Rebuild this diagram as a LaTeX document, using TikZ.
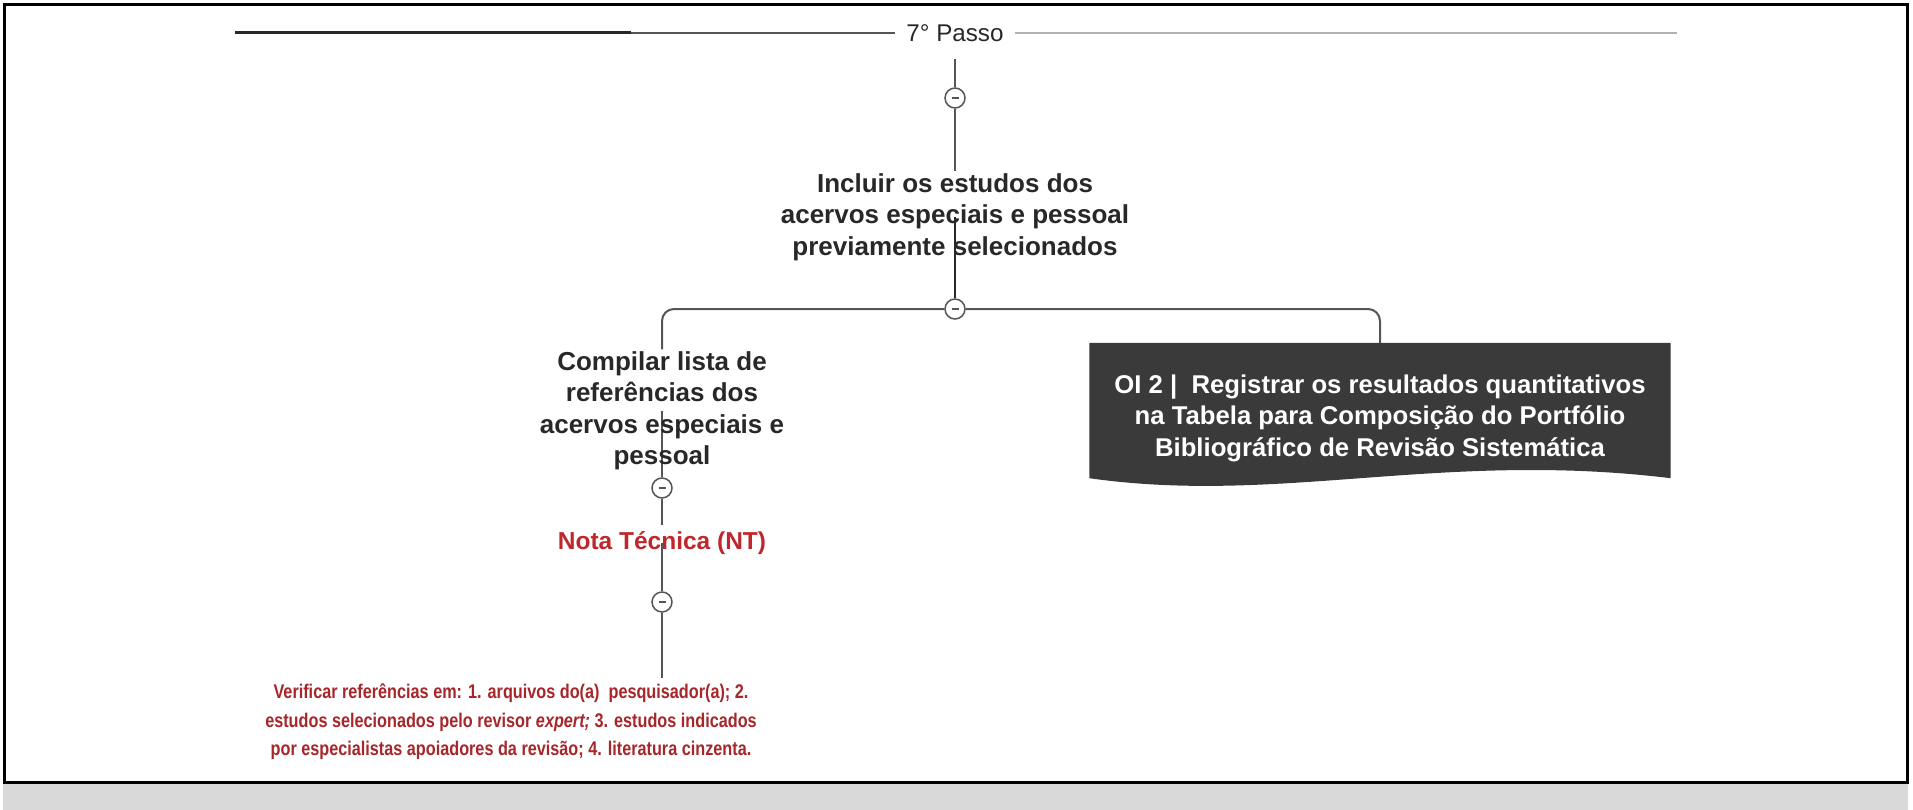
\documentclass[tikz,border=0pt]{standalone}
\usepackage{fontspec}
\setmainfont{Liberation Sans}
\newfontfamily\narrowfont[FakeStretch=0.82]{Liberation Sans}
\usetikzlibrary{backgrounds}
\definecolor{mapInk}{RGB}{40,40,40}
\definecolor{mapLine}{RGB}{85,85,85}
\definecolor{mapRed}{RGB}{192,39,45}
\definecolor{noteRed}{RGB}{166,38,42}
\definecolor{boxGray}{RGB}{58,58,58}
\definecolor{bandGray}{RGB}{217,217,217}

\begin{document}
\begin{tikzpicture}[x=1pt, y=1pt, node distance=92pt]
    \tikzstyle{topic} = [text=mapInk, align=center, font=\bfseries\fontsize{26}{31.5}\selectfont, inner sep=2pt]
    \tikzstyle{toggle} = [circle, draw=mapLine, fill=white, line width=1.5pt, minimum size=20pt, inner sep=0pt, text=mapLine]
    \tikzstyle{branch} = [draw=mapLine, line width=2pt, rounded corners=12pt]
    \tikzstyle{stem} = [draw=mapLine, line width=2pt]
    \tikzstyle{objective} = [text=white, align=center, font=\bfseries\fontsize{25.7}{31.5}\selectfont, minimum width=581pt, minimum height=150pt, inner sep=0pt]

    \useasboundingbox (0,0) rectangle (1913,-810);
    \fill[bandGray] (3,-782) rectangle (1908,-810);
    \draw[line width=3pt] (4,-5) rectangle (1907,-782);

    \coordinate (ruleL) at (235,-33);
    \coordinate (ruleM) at (631,-33);
    \coordinate (ruleR) at (1677,-33);

    \node [text=mapInk, font=\fontsize{24.2}{28}\selectfont, inner xsep=11pt, inner ysep=17.5pt] (passo) at (955,-33) {7° Passo};
    \node [toggle, below of=passo, node distance=65pt] (t1) {\rule{7pt}{1.5pt}};
    \node [topic, below of=t1, node distance=119pt] (incl) {Incluir os estudos dos\\acervos especiais e pessoal\\previamente selecionados};
    \node [toggle, below of=incl] (t2) {\rule{7pt}{1.5pt}};
    \node [topic, below of=t2, node distance=102pt, xshift=-293pt] (cmp) {Compilar lista de\\referências dos\\acervos especiais e\\pessoal};
    \node [objective, below of=t2, node distance=109pt, xshift=425pt] (oi) {OI 2 |\ \ Registrar os resultados quantitativos\\na Tabela para Composição do Portfólio\\Bibliográfico de Revisão Sistemática};
    \node [toggle, below of=cmp, node distance=77pt] (t3) {\rule{7pt}{1.5pt}};
    \node [text=mapRed, font=\bfseries\fontsize{24.5}{29}\selectfont, inner sep=6pt, below of=t3, node distance=55pt] (nt) {Nota Técnica (NT)};
    \node [toggle, below of=nt, node distance=59pt] (t4) {\rule{7pt}{1.5pt}};
    \node [text=noteRed, align=center, font=\narrowfont\bfseries\fontsize{19.8}{28.5}\selectfont, inner sep=6pt, below of=t4, node distance=120pt, xshift=-151pt] (ver) {Verificar referências em: 1. arquivos do(a)\ \ pesquisador(a); 2.\\estudos selecionados pelo revisor \textit{expert;} 3. estudos indicados\\por especialistas apoiadores da revisão; 4. literatura cinzenta.};

    \begin{pgfonlayer}{background}
        \fill [boxGray] (oi.north west) -- (oi.north east) -- ([yshift=15pt]oi.south east) .. controls ([xshift=-230pt,yshift=43pt]oi.south east) and ([xshift=191pt,yshift=-12pt]oi.south west) .. ([yshift=15pt]oi.south west) -- cycle;
        \draw [mapInk, line width=3pt] (ruleL) -- (ruleM);
        \draw [mapLine, line width=1.6pt] (ruleM) -- (passo.west);
        \draw [gray!60, line width=1.6pt] (passo.east) -- (ruleR);
        \draw [mapLine, line width=1.5pt] (passo) -- (t1);
        \draw [mapLine, line width=1.5pt] (t1) -- (incl);
        \draw [mapInk, line width=2.5pt] (incl.center) -- (t2);
        \path [branch] (t2) -| (cmp.north);
        \path [branch] (t2) -| (oi.north);
        \path [stem] (cmp.center) -- (t3);
        \path [stem] (t3) -- (nt);
        \path [stem] (nt.center) -- (t4);
        \path [stem] (t4) -- (t4 |- ver.north);
    \end{pgfonlayer}
\end{tikzpicture}
\end{document}
